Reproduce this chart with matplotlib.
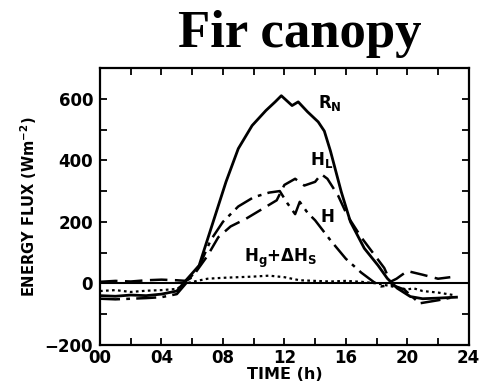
import matplotlib.pyplot as plt
from matplotlib.ticker import MultipleLocator

# net radiation (solid)
rn_hours = [0, 1, 2, 3, 4, 5, 5.6, 6.45, 7.3, 8.2, 9.0, 9.9, 10.8, 11.4, 11.8, 12.5, 12.9,
            13.5, 14.2, 14.6, 15.0, 15.7, 16.3, 17.2, 18.1, 18.7, 19.35, 20.2, 21, 22, 23.2]
rn_vals = [-40, -42, -38, -40, -35, -25, 10, 58, 190, 330, 438, 513, 562, 590, 610, 578, 590,
           558, 525, 495, 430, 298, 200, 114, 58, 16, -16, -43, -50, -48, -45]

# latent heat (dashed)
hl_hours = [0, 1, 2, 3, 4, 5, 5.6, 6.0, 7.0, 7.7, 8.5, 9.5, 10.5, 11.5, 12.0, 12.7, 13.3, 14.0,
            14.4, 14.8, 15.5, 16.1, 17.0, 17.9, 18.5, 18.9, 19.3, 20.0, 21.0, 22.0, 22.8]
hl_vals = [5, 8, 6, 10, 12, 10, 8, 20, 90, 150, 185, 210, 240, 270, 320, 340, 318, 330,
           355, 340, 285, 220, 150, 90, 50, 5, 15, 40, 28, 15, 20]

# sensible heat (dash-dot)
h_hours = [0, 1, 2, 3, 4, 5, 5.6, 6.5, 7.2, 8.0, 9.0, 10.0, 11.0, 11.7, 12.2, 12.7, 13.0, 13.5,
           14.0, 15.0, 16.0, 17.0, 17.8, 18.3, 19.0, 19.8, 20.8, 22.0, 23.0]
h_vals = [-50, -52, -50, -48, -45, -35, 0, 60, 140, 200, 250, 280, 295, 300, 260, 225, 265, 230,
          205, 140, 80, 35, 5, -10, -5, -20, -65, -55, -45]

# ground + storage (dotted)
hg_hours = [0, 1, 2, 3, 4, 5, 5.6, 6.5, 7, 8, 9, 10, 11, 12, 13, 14, 15, 16, 17, 18, 19, 20,
            20.4, 21, 22, 23]
hg_vals = [-25, -22, -28, -24, -22, -18, 0, 10, 15, 18, 20, 22, 25, 20, 10, 8, 6, 8, 5, 0, -10,
           -20, -16, -25, -30, -38]

fig = plt.figure(figsize=(4.82, 3.91), dpi=100)
ax = fig.add_axes([0.2075, 0.118, 0.765, 0.708])

ax.plot(rn_hours, rn_vals, color='black', lw=2.0, ls='-')
ax.plot(hl_hours, hl_vals, color='black', lw=1.8, ls=(0, (7, 3)))
ax.plot(h_hours, h_vals, color='black', lw=1.8, ls=(0, (8, 2.5, 1.5, 2.5)))
ax.plot(hg_hours, hg_vals, color='black', lw=1.6, ls=(0, (1.2, 1.5)))
ax.axhline(0, color='black', lw=1.5)

ax.text(14.2, 585, r'$\bf{R_N}$', fontsize=12, ha='left', va='center')
ax.text(13.7, 400, r'$\bf{H_L}$', fontsize=12, ha='left', va='center')
ax.text(14.3, 215, r'$\bf{H}$', fontsize=12, ha='left', va='center')
ax.text(9.4, 80, r'$\bf{H_g{+}\Delta H_S}$', fontsize=12, ha='left', va='center')

ax.set_xlim(0, 24)
ax.set_ylim(-200, 700)
ax.xaxis.set_minor_locator(MultipleLocator(2))
ax.yaxis.set_minor_locator(MultipleLocator(100))
ax.set_xticks([0, 4, 8, 12, 16, 20, 24])
ax.set_xticklabels(['00', '04', '08', '12', '16', '20', '24'])
ax.set_yticks([-200, 0, 200, 400, 600])
ax.tick_params(which='both', direction='in', top=True, right=True, width=1.3, labelsize=12)
ax.tick_params(which='both', length=5)
ax.tick_params(axis='y', pad=5)
ax.tick_params(axis='x', pad=3)
for lab in ax.get_xticklabels() + ax.get_yticklabels():
    lab.set_fontweight('bold')
for s in ax.spines.values():
    s.set_linewidth(1.6)

ax.set_xlabel('TIME (h)', fontsize=11.5, fontweight='bold', labelpad=0)
ax.set_ylabel(r'ENERGY FLUX (Wm$^{\bf{-2}}$)', fontsize=10.5, fontweight='bold', labelpad=4)

fig.text(0.622, 0.912, 'Fir canopy', fontsize=38, fontweight='bold',
         family='Liberation Serif', ha='center', va='center')

fig.savefig('out.png', dpi=100)
